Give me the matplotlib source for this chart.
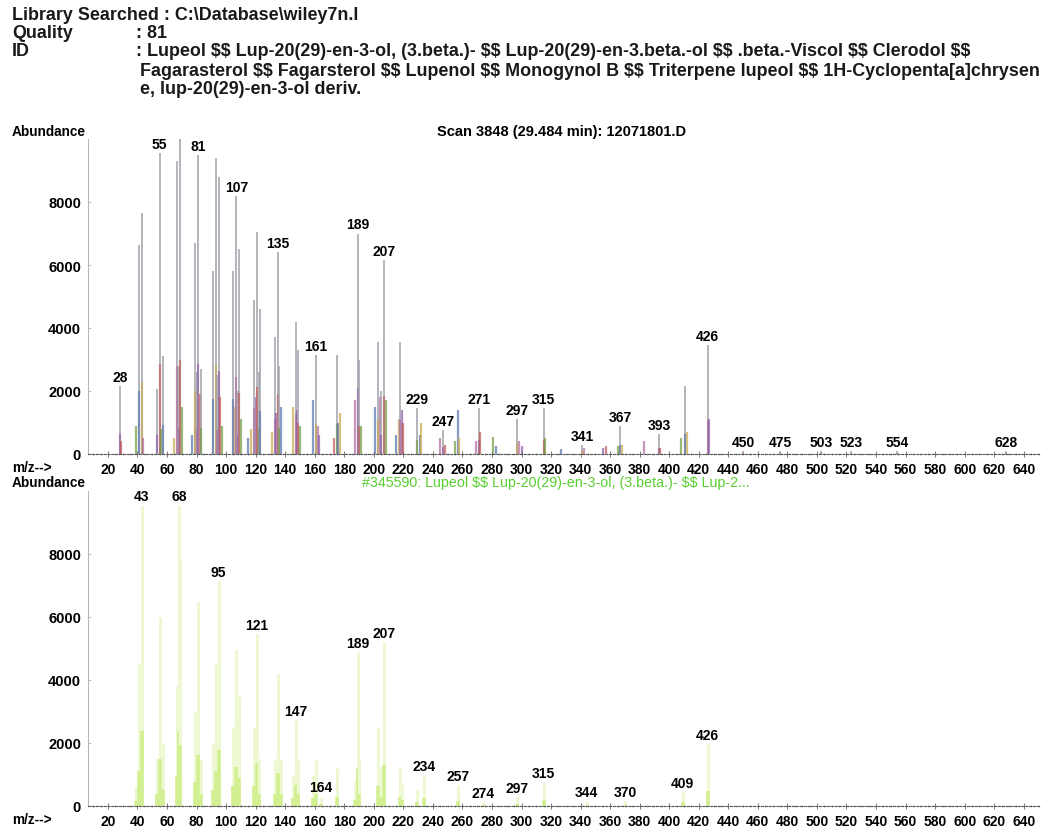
import matplotlib
matplotlib.use("Agg")
import matplotlib.pyplot as plt
from matplotlib.ticker import MultipleLocator

plt.rcParams['font.family'] = ['Liberation Sans', 'DejaVu Sans']
plt.rcParams['text.parse_math'] = False

# Header text
library = r"Library Searched : C:\Database\wiley7n.l"
quality = ": 81"
id_lines = [
    ": Lupeol $$ Lup-20(29)-en-3-ol, (3.beta.)- $$ Lup-20(29)-en-3.beta.-ol $$ .beta.-Viscol $$ Clerodol $$",
    "Fagarasterol $$ Fagarsterol $$ Lupenol $$ Monogynol B $$ Triterpene lupeol $$ 1H-Cyclopenta[a]chrysen",
    "e, lup-20(29)-en-3-ol deriv.",
]
scan_title = "Scan 3848 (29.484 min): 12071801.D"
hit_title = "#345590: Lupeol $$ Lup-20(29)-en-3-ol, (3.beta.)- $$ Lup-2..."

# Sample spectrum (top)
top_mz = [28, 29, 39, 41, 43, 44, 53, 55, 56, 57, 65, 67, 68, 69, 70, 77, 79, 80, 81,
          82, 83, 91, 93, 94, 95, 96, 97, 105, 106, 107, 108, 109, 110, 115, 117, 119,
          120, 121, 122, 123, 131, 133, 134, 135, 136, 137, 145, 147, 148, 149, 150,
          159, 161, 162, 163, 173, 175, 176, 177, 187, 189, 190, 191, 201, 203, 204,
          205, 207, 208, 215, 217, 218, 219, 220, 229, 231, 232, 245, 247, 248, 255,
          257, 258, 269, 271, 272, 281, 283, 297, 298, 300, 315, 316, 327, 341, 342,
          355, 357, 365, 367, 368, 383, 393, 394, 408, 411, 412, 426, 427, 450, 475,
          503, 523, 554, 628]
top_ab = [2150, 400, 900, 6650, 7650, 500, 2050, 9550, 800, 3100, 500, 9300, 2800, 10000,
          1500, 600, 6700, 2600, 9500, 1900, 2700, 5800, 9400, 2500, 8800, 1800, 900,
          5800, 1500, 8200, 2000, 6500, 1100, 500, 800, 4900, 1800, 7050, 2600, 4600,
          700, 3700, 1300, 6400, 2800, 1500, 1500, 4200, 1400, 3300, 900, 1700, 3150,
          900, 600, 500, 3150, 1000, 1300, 1700, 7000, 3000, 900, 1500, 3550, 1800, 2000,
          6150, 1700, 600, 1100, 3550, 1400, 1000, 1450, 600, 1000, 500, 750, 300, 400,
          1400, 500, 400, 1450, 700, 550, 250, 1100, 400, 250, 1450, 500, 150, 280, 200,
          200, 250, 250, 900, 300, 400, 630, 200, 500, 2150, 700, 3450, 1100, 100, 100,
          100, 100, 100, 100]
top_labels = [28, 55, 81, 107, 135, 161, 189, 207, 229, 247, 271, 297, 315, 341, 367,
              393, 426, 450, 475, 503, 523, 554, 628]

# Library hit spectrum (bottom)
bot_mz = [39, 41, 43, 53, 55, 57, 67, 68, 69, 79, 81, 83, 91, 93, 95, 105, 107, 109, 119,
          121, 122, 133, 135, 137, 145, 147, 149, 159, 161, 164, 175, 187, 189, 190, 203,
          205, 207, 218, 219, 229, 234, 257, 274, 297, 315, 344, 370, 409, 426]
bot_ab = [600, 4500, 9550, 1500, 6000, 2000, 3800, 9550, 7800, 3000, 6500, 1500, 2000,
          4500, 7150, 2500, 5000, 3500, 2500, 5450, 1500, 1500, 4200, 1500, 1000, 2720,
          1500, 1000, 1500, 300, 1200, 800, 4880, 1500, 2500, 1200, 5200, 1200, 700, 500,
          980, 660, 130, 290, 760, 160, 170, 450, 1960]
bot_labels = [43, 68, 95, 121, 147, 164, 189, 207, 234, 257, 274, 297, 315, 344, 370, 409, 426]

W, H = 1051, 828
fig = plt.figure(figsize=(W / 100, H / 100), dpi=100)
fig.patch.set_facecolor('white')

def fx(x):
    return x / W

def fy(y):
    return 1 - y / H

# header
hdr = dict(fontsize=12.9, fontweight='bold', color='#1a1a1a', va='center', ha='left')
fig.text(fx(12), fy(15), library, **hdr)
fig.text(fx(12), fy(34), "Quality", **hdr)
fig.text(fx(136), fy(34), quality, **hdr)
fig.text(fx(12), fy(52), "ID", **hdr)
fig.text(fx(136), fy(52), id_lines[0], **hdr)
fig.text(fx(140), fy(71), id_lines[1], **hdr)
fig.text(fx(140), fy(90), id_lines[2], **hdr)

palette = ['#8e5aa8', '#c2544f', '#6f9a3c', '#5571b0', '#c8a94a', '#b06a9a']


def style_axes(ax):
    ax.set_xlim(6.5, 651)
    ax.set_ylim(0, 10000)
    for s in ['top', 'right']:
        ax.spines[s].set_visible(False)
    ax.spines['left'].set_color('#b8b8b8')
    ax.spines['left'].set_linewidth(0.8)
    ax.spines['bottom'].set_color('#555555')
    ax.spines['bottom'].set_linestyle((0, (2, 1.5)))
    ax.spines['bottom'].set_linewidth(0.8)
    ax.xaxis.set_minor_locator(MultipleLocator(5))
    ax.set_xticks(range(20, 641, 20))
    ax.set_yticks(range(0, 8001, 2000))
    ax.tick_params(axis='x', which='major', direction='inout', length=4, width=0.6,
                   color='#666666', labelsize=10, pad=4)
    ax.tick_params(axis='x', which='minor', direction='inout', length=2, width=0.5,
                   color='#888888')
    ax.tick_params(axis='y', direction='in', length=2, width=0.5, color='#aaaaaa',
                   labelsize=10.5, pad=5)
    for lab in ax.get_xticklabels() + ax.get_yticklabels():
        lab.set_fontweight('bold')


# top: sample scan
ax1 = fig.add_axes([fx(88), fy(455), fx(1040 - 88), 315 / H])
style_axes(ax1)
for i, (m, a) in enumerate(zip(top_mz, top_ab)):
    if a >= 2000 or m in top_labels:
        ax1.vlines(m, 0, a, colors='#a0a0aa', lw=1.1)
        ax1.vlines(m, 0, a * 0.3, colors=palette[i % len(palette)], lw=1.6, alpha=0.6)
    else:
        ax1.vlines(m, 0, a, colors=palette[i % len(palette)], lw=1.6, alpha=0.7)
for m in top_labels:
    a = top_ab[top_mz.index(m)]
    ax1.annotate(str(m), (m, a), xytext=(0, 1.5), textcoords='offset points',
                 ha='center', va='bottom', fontsize=10, fontweight='bold')

# bottom: library hit
ax2 = fig.add_axes([fx(88), fy(807), fx(1040 - 88), 315 / H])
style_axes(ax2)
for m, a in zip(bot_mz, bot_ab):
    ax2.vlines(m, 0, a, colors='#eef9d4', lw=2.2)
    ax2.vlines(m, 0, a * 0.25, colors='#d2f092', lw=2.6)
for m in bot_labels:
    a = bot_ab[bot_mz.index(m)]
    ax2.annotate(str(m), (m, a), xytext=(0, 1.5), textcoords='offset points',
                 ha='center', va='bottom', fontsize=10, fontweight='bold')

# panel texts
small = dict(fontsize=9.8, fontweight='bold', va='center', ha='left')
fig.text(fx(12), fy(132), "Abundance", **small)
fig.text(fx(12), fy(468), "m/z-->", **small)
fig.text(fx(12), fy(483), "Abundance", **small)
fig.text(fx(12), fy(820), "m/z-->", **small)
fig.text(fx(437), fy(132), scan_title, fontsize=10.5, fontweight='bold', va='center')
fig.text(fx(362), fy(483), hit_title, fontsize=10.3, color='#58d030', va='center')

fig.savefig('out.png', dpi=100)
